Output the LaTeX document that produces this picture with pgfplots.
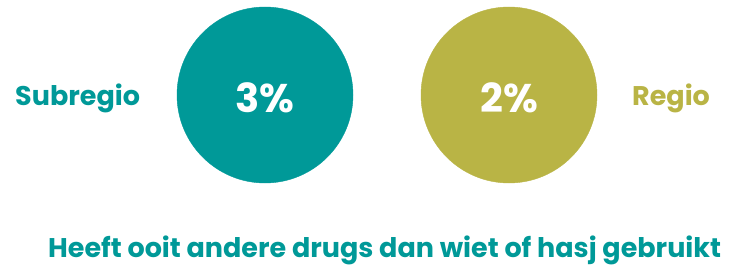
\documentclass[border=0pt]{standalone}
\usepackage{pgfplots}
\pgfplotsset{compat=1.18}
\usepackage{fontspec}
\setmainfont{Poppins}
\definecolor{tealc}{RGB}{0,153,152}
\definecolor{olivec}{RGB}{185,180,69}
\begin{document}
\begin{tikzpicture}
\begin{axis}[name=ax, width=741bp, height=269bp, scale only axis,
  xmin=0, xmax=741, ymin=0, ymax=269, y dir=reverse, hide axis, clip=false]
\addplot[only marks, mark=*, mark size=88bp, mark options={draw=tealc, fill=tealc}] coordinates {(265,95)};
\addplot[only marks, mark=*, mark size=88bp, mark options={draw=olivec, fill=olivec}] coordinates {(509,95)};
\coordinate (p1) at (axis cs:265,113);
\coordinate (p2) at (axis cs:509,113);
\node[anchor=base west, inner sep=0, text=tealc, font=\fontsize{27bp}{31bp}\selectfont\bfseries] at (axis cs:15,105) {Subregio};
\node[anchor=base west, inner sep=0, text=olivec, font=\fontsize{27bp}{31bp}\selectfont\bfseries] at (axis cs:632,105) {Regio};
\node[anchor=base west, inner sep=0, text=tealc, font=\fontsize{27bp}{31bp}\selectfont\bfseries] at (axis cs:48,257) {Heeft ooit andere drugs dan wiet of hasj gebruikt};
\end{axis}
\node[anchor=base, inner sep=0, text=white, font=\fontsize{40bp}{44bp}\selectfont\bfseries] at (p1) {3\%};
\node[anchor=base, inner sep=0, text=white, font=\fontsize{40bp}{44bp}\selectfont\bfseries] at (p2) {2\%};
\pgfresetboundingbox
\path[use as bounding box] (ax.south west) rectangle (ax.north east);
\end{tikzpicture}
\end{document}
